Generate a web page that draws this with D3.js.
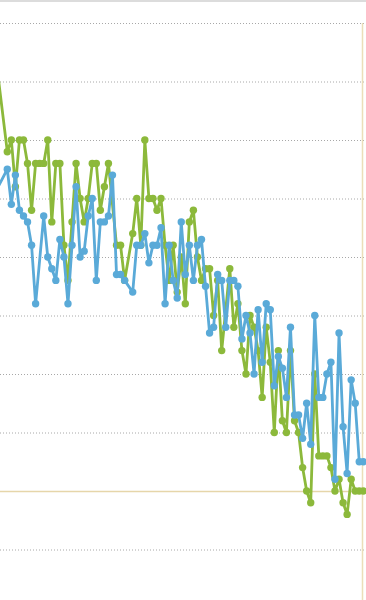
<!DOCTYPE html>
<html>
<head>
<meta charset="utf-8">
<script src="https://cdn.jsdelivr.net/npm/d3@7"></script>
<style>
  html, body { margin: 0; padding: 0; background: #fff; overflow: hidden; }
</style>
</head>
<body>
<div id="wrapper"></div>
<script>
// day index of each sample (shared by both series), gaps = missing readings
const days = d3.range(-3, 89)

const greenValues = [
    37.5, null, null,
    29, 30, 26, 30, 30, 28, 24, 28, 28, 28,
    30, 23, 28, 28, 21, 18, 23, 28, 25, 23,
    25, 28, 28, 24, 26, 28, null, 21, 21, 18,
    null, 22, 25, 21, 30, 25, 25, 24, 25, 21,
    18, 21, 17, 20, 16, 23, 24, 20, 18, 19,
    19, 15, 18, 12, null, 19, 14, 16, 12, 10,
    15, 14, 12, 8, 14, 11, 5, 12, 6, 5,
    12, 6, 5, 2, 0, -1, 10, 3, 3, 3,
    2, 0, 1, -1, -2, 1, 0, 0, 0
]

const blueValues = [
    25.5, null, null,
    27.5, 24.5, 27, 24, 23.5, 23, 21, 16, null, 23.5,
    20, 19, 18, 21.5, 20, 16, 21, 26, 20, 20.5,
    23.5, 25, 18, 23, 23, 23.5, 27, 18.5, 18.5, 18,
    null, 17, 21, 21, 22, 19.5, 21, 21, 22.5, 16,
    21, 18, 16.5, 23, 18.5, 21, 18, 21, 21.5, 17.5,
    13.5, 14, 18.5, 18, 14, 18, 18, 17.5, 13, 15,
    13.5, 10, 15.5, 11, 16, 15.5, 9, 11.5, 10.5, 8,
    14, 6.5, 6.5, 4.5, 7.5, 4, 15, 8, 8, 10,
    11, 1, 13.5, 5.5, 1.5, 9.5, 7.5, 2.5, 2.5
]

const yTicks = [-5, 0, 5, 10, 15, 20, 25, 30, 35, 40]

const width = 366
const height = 600

const svg = d3.select("#wrapper")
    .append("svg")
    .attr("width", width)
    .attr("height", height)
    .style("display", "block")

const xScale = d3.scaleLinear()
    .domain([0, 88])
    .range([7.3, 363.3])

const yScale = d3.scaleLinear()
    .domain([-5, 40])
    .range([549.5, 23])

// thin border at the very top
svg.append("line")
    .attr("x1", 0).attr("x2", width)
    .attr("y1", 1).attr("y2", 1)
    .attr("stroke", "#dcdcdc")
    .attr("stroke-width", 2)

// dotted grid from an axis with full-width ticks
const grid = svg.append("g")
    .attr("transform", "translate(364,0)")
    .call(d3.axisLeft(yScale).tickValues(yTicks).tickSize(364).tickFormat(""))
grid.select(".domain").remove()
grid.selectAll(".tick line")
    .attr("stroke", d => d === 0 ? "#e6d6aa" : "#a8a8a8")
    .attr("stroke-width", d => d === 0 ? 1.3 : 1)
    .attr("stroke-dasharray", d => d === 0 ? null : "1,2")

// vertical marker line on the right
svg.append("line")
    .attr("x1", 362.5).attr("x2", 362.5)
    .attr("y1", yScale(40)).attr("y2", height)
    .attr("stroke", "#ebdfb8")
    .attr("stroke-width", 1.5)

const line = d3.line()
    .x(d => xScale(d.day))
    .y(d => yScale(d.value))

function drawSeries(values, color) {
    const pts = days.map((day, i) => ({day: day, value: values[i]}))
        .filter(d => d.value !== null)
    const g = svg.append("g")
    g.append("path")
        .datum(pts)
        .attr("fill", "none")
        .attr("stroke", color)
        .attr("stroke-width", 2.8)
        .attr("stroke-linejoin", "round")
        .attr("d", line)
    g.selectAll("circle")
        .data(pts)
        .enter()
        .append("circle")
        .attr("cx", d => xScale(d.day))
        .attr("cy", d => yScale(d.value))
        .attr("r", 3.7)
        .attr("fill", color)
}

drawSeries(greenValues, "#8cb93b")
drawSeries(blueValues, "#5aaad8")
</script>
</body>
</html>
